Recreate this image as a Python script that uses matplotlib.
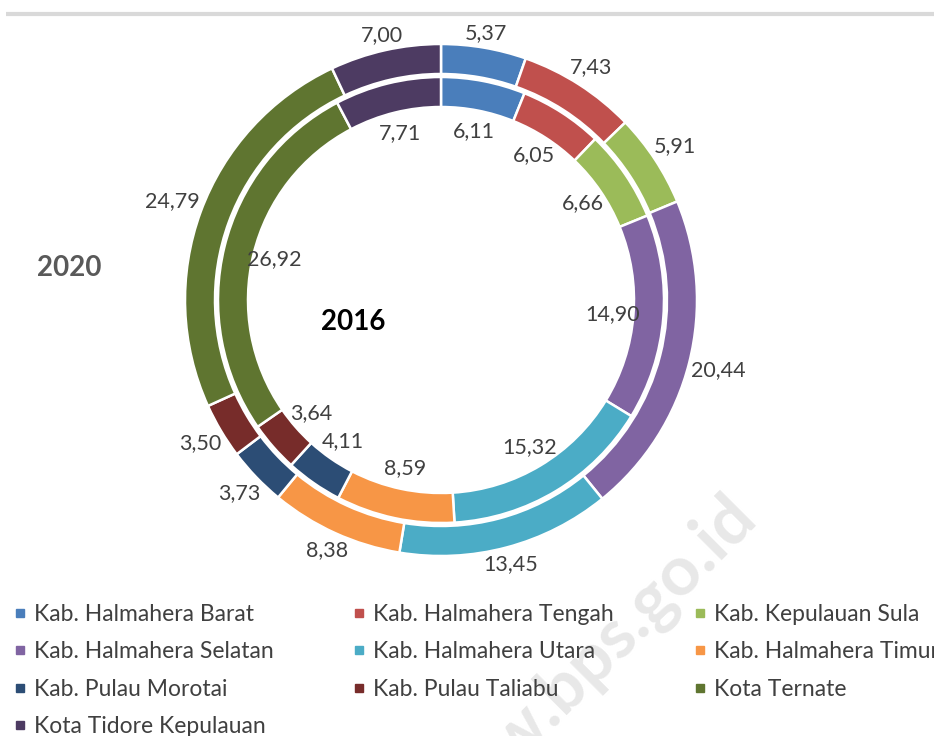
import numpy as np
import matplotlib.pyplot as plt
from matplotlib.lines import Line2D

plt.rcParams['font.family'] = ['Lato', 'DejaVu Sans']

regions = [
    "Kab. Halmahera Barat", "Kab. Halmahera Tengah", "Kab. Kepulauan Sula",
    "Kab. Halmahera Selatan", "Kab. Halmahera Utara", "Kab. Halmahera Timur",
    "Kab. Pulau Morotai", "Kab. Pulau Taliabu", "Kota Ternate",
    "Kota Tidore Kepulauan",
]
share_2020 = [5.37, 7.43, 5.91, 20.44, 13.45, 8.38, 3.73, 3.50, 24.79, 7.00]
share_2016 = [6.11, 6.05, 6.66, 14.90, 15.32, 8.59, 4.11, 3.64, 26.92, 7.71]
colors = ["#4A7EBB", "#C0504D", "#9BBB59", "#8064A2", "#4BACC6",
          "#F79646", "#2C4D75", "#772C2A", "#5F7530", "#4D3B62"]

W, H = 934, 736
fig = plt.figure(figsize=(W / 100, H / 100), dpi=100)
ax = fig.add_axes([0, 0, 1, 1])

cx, cy = 441, H - 300
r_out, r_in, ring = 256, 223, 30
txt = '#404040'


def fmt(v):
    return f"{v:.2f}".replace(".", ",")


outer, _ = ax.pie(share_2020, colors=colors, radius=r_out, center=(cx, cy),
                  startangle=90, counterclock=False,
                  wedgeprops=dict(width=ring, edgecolor='white', linewidth=1.8))
inner, _ = ax.pie(share_2016, colors=colors, radius=r_in, center=(cx, cy),
                  startangle=90, counterclock=False,
                  wedgeprops=dict(width=ring, edgecolor='white', linewidth=1.8))

ax.set_xlim(0, W)
ax.set_ylim(0, H)
ax.set_aspect('auto')
ax.axis('off')

renderer = fig.canvas.get_renderer()

# outer labels: just outside the ring
for w, v in zip(outer, share_2020):
    a = np.deg2rad((w.theta1 + w.theta2) / 2)
    t = ax.text(0, 0, fmt(v), fontsize=15.5, color=txt, ha='center', va='center')
    bb = t.get_window_extent(renderer)
    off = abs(np.cos(a)) * bb.width / 2 + abs(np.sin(a)) * bb.height / 2
    r = r_out + 1 + off
    t.set_position((cx + r * np.cos(a), cy + r * np.sin(a)))

# inner labels: inside the inner ring
for w, v in zip(inner, share_2016):
    a = np.deg2rad((w.theta1 + w.theta2) / 2)
    r = 172
    ax.text(cx + r * np.cos(a), cy + r * np.sin(a), fmt(v), fontsize=15.5,
            color=txt, ha='center', va='center')

ax.text(69, H - 268, "2020", fontsize=20, fontweight='bold', color='#595959',
        ha='center', va='center')
ax.text(353, H - 322, "2016", fontsize=20, fontweight='bold', color='black',
        ha='center', va='center')

# top rule
ax.plot([6, W], [H - 14, H - 14], color='#d9d9d9', lw=3, solid_capstyle='butt')

# watermark
ax.text(760, H - 522, "www.bps.go.id", fontsize=50, fontweight='bold',
        color='#e8e8e8', rotation=45, rotation_mode='anchor',
        ha='right', va='baseline', zorder=0)

# legend, filled row by row
handles = [Line2D([], [], marker='s', ls='none', color=c, markersize=5.8)
           for c in colors]
order = [0, 3, 6, 9, 1, 4, 7, 2, 5, 8]
leg = ax.legend([handles[i] for i in order], [regions[i] for i in order],
                ncol=3, loc='upper left', bbox_to_anchor=(13, H - 604),
                bbox_transform=ax.transData, frameon=False, fontsize=16.5,
                handlelength=0.6, handletextpad=0.3, columnspacing=3.45,
                labelspacing=0.71, borderpad=0, borderaxespad=0)
for t in leg.get_texts():
    t.set_color(txt)

fig.savefig("out.png", dpi=100)
